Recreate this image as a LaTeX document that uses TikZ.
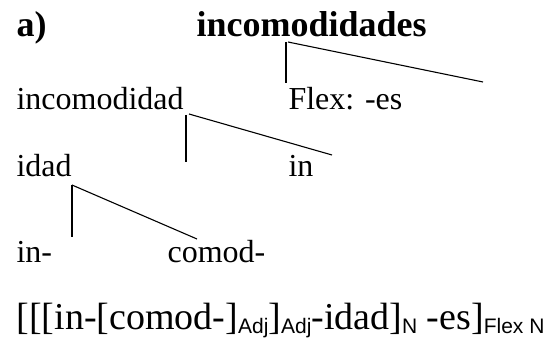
\documentclass[tikz,border=0pt]{standalone}
\usepackage{fontspec}
\setmainfont{Liberation Serif}
\newfontfamily\subsans{Liberation Sans}
\newcommand{\lowsub}[1]{\raisebox{-4pt}{\subsans\fontsize{21}{21}\selectfont #1}}

\begin{document}
\begin{tikzpicture}[x=1pt,y=-1pt,-,line width=1.1pt]
    \tikzstyle{word}=[anchor=base west,inner sep=0pt,font=\fontsize{32}{38}\selectfont]
    \tikzstyle{title}=[word,font=\fontsize{36}{43}\selectfont\bfseries]
    \tikzstyle{bracket}=[word,font=\fontsize{38}{45}\selectfont]
    \useasboundingbox (0,0) rectangle (552,363);

    \node[title] (label) at (16,37) {a)};
    \node[title] (root) at (196,37) {incomodidades};
    \node[word] (base) at (16,110) {incomodidad};
    \node[word] (flex) at (288,110) {Flex: -es};
    \node[word] (suffix) at (16,177) {idad};
    \node[word] (prefix) at (288,177) {in};
    \node[word] (in) at (16,263) {in-};
    \node[word] (comod) at (167,263) {comod-};
    \node[bracket] (brackets) at (16,330)
        {[[[in-[comod-]\lowsub{Adj}]\lowsub{Adj}-idad]\lowsub{N} -es]\lowsub{Flex N}};

    % branch points and loose ends
    \foreach \name/\x/\y in {R-top/286/42, R-join/288/42, R-down/286/83, R-end/483/82,
                             B-top/186/115, B-join/189/114, B-down/186/162, B-end/332/155,
                             S-top/72/185, S-down/72/237, S-end/197/239}
        \coordinate (\name) at (\x,\y);

    \foreach \from/\to in {R-top/R-down, R-join/R-end, B-top/B-down, B-join/B-end,
                           S-top/S-down, S-top/S-end}
        \draw (\from) -- (\to);
\end{tikzpicture}
\end{document}
